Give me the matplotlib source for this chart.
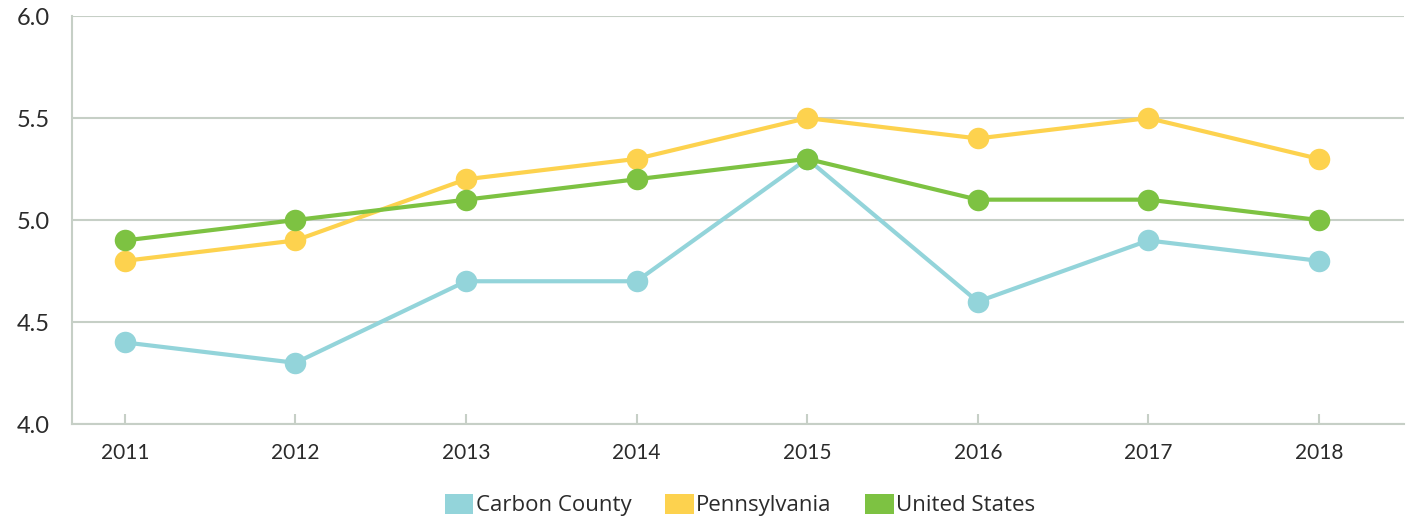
import matplotlib.pyplot as plt
from matplotlib.patches import Patch

# Series values by year
years = ['2011', '2012', '2013', '2014', '2015', '2016', '2017', '2018']
carbon_county = [4.4, 4.3, 4.7, 4.7, 5.3, 4.6, 4.9, 4.8]
pennsylvania = [4.8, 4.9, 5.2, 5.3, 5.5, 5.4, 5.5, 5.3]
united_states = [4.9, 5.0, 5.1, 5.2, 5.3, 5.1, 5.1, 5.0]

series_names = ['Carbon County', 'Pennsylvania', 'United States']
colors = ['#93d4da', '#fdd24e', '#7dc242']
grid_color = '#c6cfc6'
text_color = '#2b2b2b'

fig = plt.figure(figsize=(14.09, 5.19), dpi=100)
ax = fig.add_axes([0.0511, 0.183, 0.9455, 0.786])

x = list(range(len(years)))
# draw order: county below, then state, then national on top
for vals, col in zip([carbon_county, pennsylvania, united_states], colors):
    ax.plot(x, vals, color=col, linewidth=3, marker='o', markersize=15.5,
            markeredgewidth=0, solid_capstyle='round', zorder=3)

ax.set_ylim(4.0, 6.0)
ax.set_xlim(-0.31, 7.5)
ax.set_yticks([4.0, 4.5, 5.0, 5.5, 6.0])
ax.set_yticklabels(['4.0', '4.5', '5.0', '5.5', '6.0'])
ax.set_xticks(x)
ax.set_xticklabels(years)

ax.grid(axis='y', color=grid_color, linewidth=1.5, zorder=0)
ax.set_axisbelow(True)
for side in ['top', 'right']:
    ax.spines[side].set_visible(False)
for side in ['left', 'bottom']:
    ax.spines[side].set_color(grid_color)
    ax.spines[side].set_linewidth(1.5)

ax.tick_params(axis='y', length=0, pad=16, labelsize=17, labelcolor=text_color)
ax.tick_params(axis='x', direction='in', length=7, width=1.5, color=grid_color,
               pad=14, labelsize=15, labelcolor=text_color)
for lab in ax.get_xticklabels() + ax.get_yticklabels():
    lab.set_family('Lato')

handles = [Patch(facecolor=c, edgecolor='none') for c in colors]
fig.legend(handles, series_names, loc='center', bbox_to_anchor=(0.525, 0.027),
           ncol=3, frameon=False, handlelength=1.3, handleheight=1.0,
           handletextpad=0.1, columnspacing=1.5,
           prop={'family': 'Open Sans', 'size': 16}, labelcolor=text_color)

fig.savefig('out.png', dpi=100)
